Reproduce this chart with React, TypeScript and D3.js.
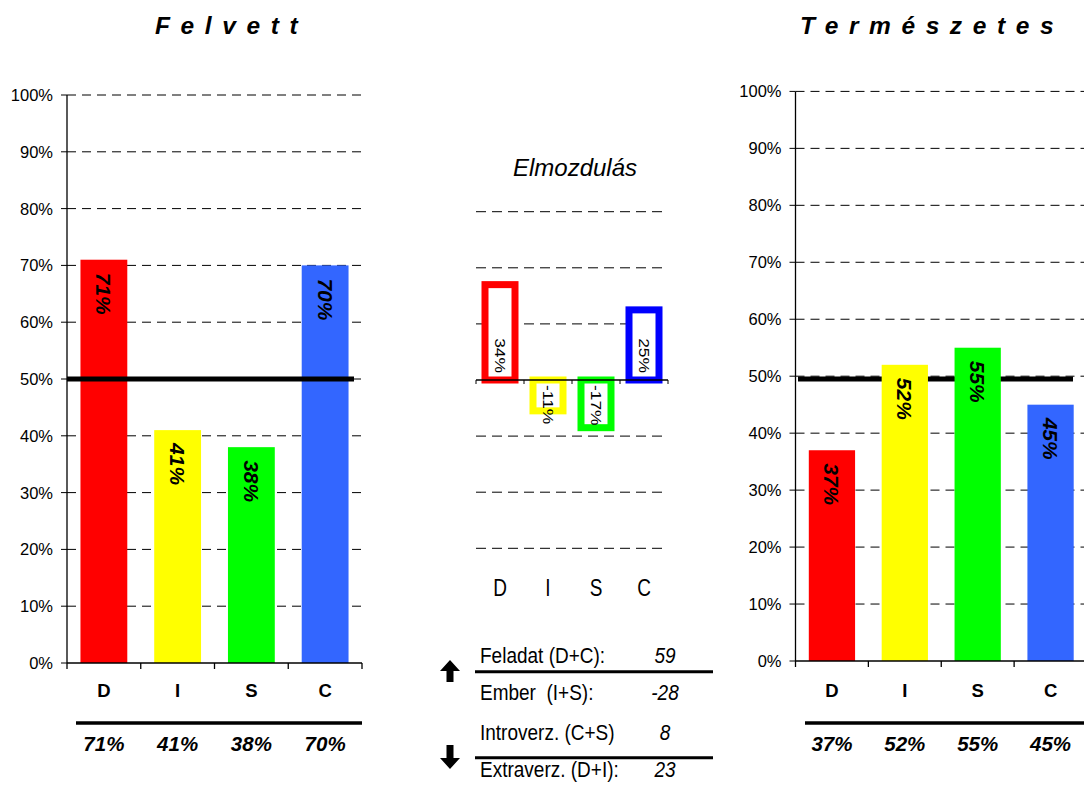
import React from "react";
import * as d3 from "d3";

const categories = ["D", "I", "S", "C"];
const felvettValues = [71, 41, 38, 70];
const termeszetesValues = [37, 52, 55, 45];
const shiftValues = [34, -11, -17, 25];
const barColors = ["#ff0000", "#ffff00", "#00ff00", "#3366ff"];
const shiftColors = ["#ff0000", "#ffff00", "#00ff00", "#0000ff"];
const percentTicks = [0, 10, 20, 30, 40, 50, 60, 70, 80, 90, 100];
const shiftGrid = [-60, -40, -20, 20, 40, 60];
const upperRows = [
  { label: "Feladat (D+C):", value: "59" },
  { label: "Ember  (I+S):", value: "-28" },
];
const lowerRows = [
  { label: "Introverz. (C+S)", value: "8" },
  { label: "Extraverz. (D+I):", value: "23" },
];

const FONT = "'Liberation Sans', Arial, Helvetica, sans-serif";

interface PercentChartProps {
  title: string;
  titleX: number;
  values: number[];
  x0: number;
  x1: number;
  yTop: number;
  yBottom: number;
  gridEnd: number;
  refValue: number;
  refFrom: number;
  refTo: number;
  refOnTop: boolean;
  underlineFrom: number;
  underlineTo: number;
}

const PercentChart: React.FC<PercentChartProps> = ({
  title,
  titleX,
  values,
  x0,
  x1,
  yTop,
  yBottom,
  gridEnd,
  refValue,
  refFrom,
  refTo,
  refOnTop,
  underlineFrom,
  underlineTo,
}) => {
  const x = d3.scaleBand<string>().domain(categories).range([x0, x1]).padding(0);
  const y = d3.scaleLinear().domain([0, 100]).range([yBottom, yTop]);
  const barW = x.bandwidth() * 0.635;
  const boundaries = categories.map((c) => x(c)!).concat([x1]);

  const refLine = (
    <line
      x1={refFrom}
      x2={refTo}
      y1={y(refValue)}
      y2={y(refValue)}
      stroke="#000"
      strokeWidth={5}
    />
  );

  return (
    <g>
      <text
        x={titleX}
        y={34}
        fontSize={24.5}
        fontWeight="bold"
        fontStyle="italic"
        letterSpacing={10.6}
      >
        {title}
      </text>
      {percentTicks.map((t) => (
        <g key={t}>
          {t > 0 && (
            <line
              x1={x0}
              x2={gridEnd}
              y1={y(t)}
              y2={y(t)}
              stroke="#000"
              strokeWidth={1}
              strokeDasharray="9,6"
            />
          )}
          <line x1={x0 - 6} x2={x0} y1={y(t)} y2={y(t)} stroke="#000" strokeWidth={1} />
          <text
            x={x0 - 14}
            y={y(t)}
            textAnchor="end"
            dominantBaseline="central"
            fontSize={16.5}
          >
            {t}%
          </text>
        </g>
      ))}
      {!refOnTop && refLine}
      {values.map((v, i) => {
        const cx = x(categories[i])! + x.bandwidth() / 2;
        return (
          <g key={categories[i]}>
            <rect
              x={cx - barW / 2}
              y={y(v)}
              width={barW}
              height={yBottom - y(v)}
              fill={barColors[i]}
            />
            <text
              transform={`translate(${cx},${y(v) + 13}) rotate(90)`}
              dominantBaseline="central"
              fontSize={21}
              fontWeight="bold"
              fontStyle="italic"
            >
              {v}%
            </text>
          </g>
        );
      })}
      {refOnTop && refLine}
      <line x1={x0} x2={x0} y1={yTop} y2={yBottom} stroke="#000" strokeWidth={1.3} />
      <line x1={x0} x2={x1} y1={yBottom} y2={yBottom} stroke="#000" strokeWidth={1.3} />
      {boundaries.map((b, i) => (
        <line key={i} x1={b} x2={b} y1={yBottom} y2={yBottom + 6} stroke="#000" strokeWidth={1.3} />
      ))}
      {categories.map((c) => (
        <text
          key={c}
          x={x(c)! + x.bandwidth() / 2}
          y={697}
          textAnchor="middle"
          fontSize={18.5}
          fontWeight="bold"
        >
          {c}
        </text>
      ))}
      <line
        x1={underlineFrom}
        x2={underlineTo}
        y1={723}
        y2={723}
        stroke="#000"
        strokeWidth={3.5}
      />
      {values.map((v, i) => (
        <text
          key={i}
          x={x(categories[i])! + x.bandwidth() / 2}
          y={750.5}
          textAnchor="middle"
          fontSize={20.5}
          fontWeight="bold"
          fontStyle="italic"
        >
          {v}%
        </text>
      ))}
    </g>
  );
};

const ShiftChart: React.FC = () => {
  const x = d3.scaleBand<string>().domain(categories).range([476, 668]).padding(0);
  const y = d3.scaleLinear().domain([-60, 60]).range([548.3, 211.7]);
  const innerW = 30;
  const boundaries = categories.map((c) => x(c)!).concat([668]);

  return (
    <g>
      <text x={575} y={176} textAnchor="middle" fontSize={24} fontStyle="italic">
        Elmozdulás
      </text>
      {shiftGrid.map((g) => (
        <line
          key={g}
          x1={476}
          x2={668}
          y1={y(g)}
          y2={y(g)}
          stroke="#000"
          strokeWidth={1}
          strokeDasharray="10,6"
        />
      ))}
      {shiftValues.map((v, i) => {
        const cx = x(categories[i])! + x.bandwidth() / 2;
        const top = Math.min(y(v), y(0));
        const h = Math.abs(y(v) - y(0));
        return (
          <rect
            key={categories[i]}
            x={cx - innerW / 2}
            y={top}
            width={innerW}
            height={h}
            fill="#fff"
            stroke={shiftColors[i]}
            strokeWidth={7}
          />
        );
      })}
      <line x1={476} x2={668} y1={y(0)} y2={y(0)} stroke="#000" strokeWidth={1.5} />
      {boundaries.map((b, i) => (
        <line key={i} x1={b} x2={b} y1={y(0)} y2={y(0) + 4} stroke="#000" strokeWidth={1} />
      ))}
      {shiftValues.map((v, i) => {
        const cx = x(categories[i])! + x.bandwidth() / 2;
        const pos = v >= 0;
        return (
          <text
            key={i}
            transform={`translate(${cx},${pos ? y(0) - 7 : y(0) + 5}) rotate(90) scale(1.2,1)`}
            textAnchor={pos ? "end" : "start"}
            dominantBaseline="central"
            fontSize={14.5}
          >
            {v}%
          </text>
        );
      })}
      {categories.map((c) => (
        <text
          key={c}
          transform={`translate(${x(c)! + x.bandwidth() / 2},596) scale(1,1.22)`}
          textAnchor="middle"
          fontSize={19}
        >
          {c}
        </text>
      ))}
    </g>
  );
};

const arrowPath = (cx: number, tip: number, tail: number) => {
  const dir = tail > tip ? 1 : -1;
  const headLen = 11 * dir;
  const p = d3.path();
  p.moveTo(cx, tip);
  p.lineTo(cx + 10, tip + headLen);
  p.lineTo(cx + 3.5, tip + headLen);
  p.lineTo(cx + 3.5, tail);
  p.lineTo(cx - 3.5, tail);
  p.lineTo(cx - 3.5, tip + headLen);
  p.lineTo(cx - 10, tip + headLen);
  p.closePath();
  return p.toString();
};

const SummaryTable: React.FC = () => {
  const blocks = [
    { rows: upperRows, top: 662.5, line: 671.7, arrow: arrowPath(450, 660, 682) },
    { rows: lowerRows, top: 740, line: 757.7, arrow: arrowPath(450, 769, 745) },
  ];
  return (
    <g fontSize={19}>
      {blocks.map((b, bi) => (
        <g key={bi}>
          <path d={b.arrow} fill="#000" />
          <line x1={475} x2={713} y1={b.line} y2={b.line} stroke="#000" strokeWidth={3} />
          {b.rows.map((r, ri) => (
            <g key={ri} transform={`translate(0,${b.top + ri * 37}) scale(1,1.15)`}>
              <text x={480} y={0} style={{ whiteSpace: "pre" }}>
                {r.label}
              </text>
              <text x={665} y={0} textAnchor="middle" fontStyle="italic">
                {r.value}
              </text>
            </g>
          ))}
        </g>
      ))}
    </g>
  );
};

export default function App() {
  return (
    <div style={{ position: "absolute", left: 0, top: 0 }}>
      <svg width={1084} height={790} style={{ display: "block", background: "#fff", fontFamily: FONT }}>
        <PercentChart
          title="Felvett"
          titleX={155}
          values={felvettValues}
          x0={67}
          x1={362}
          yTop={95}
          yBottom={663}
          gridEnd={362}
          refValue={50}
          refFrom={67}
          refTo={354}
          refOnTop={true}
          underlineFrom={76}
          underlineTo={362}
        />
        <ShiftChart />
        <SummaryTable />
        <PercentChart
          title="Természetes"
          titleX={800}
          values={termeszetesValues}
          x0={795.5}
          x1={1087}
          yTop={91.4}
          yBottom={661}
          gridEnd={1084}
          refValue={49.5}
          refFrom={798}
          refTo={1073}
          refOnTop={false}
          underlineFrom={805}
          underlineTo={1084}
        />
      </svg>
    </div>
  );
}
